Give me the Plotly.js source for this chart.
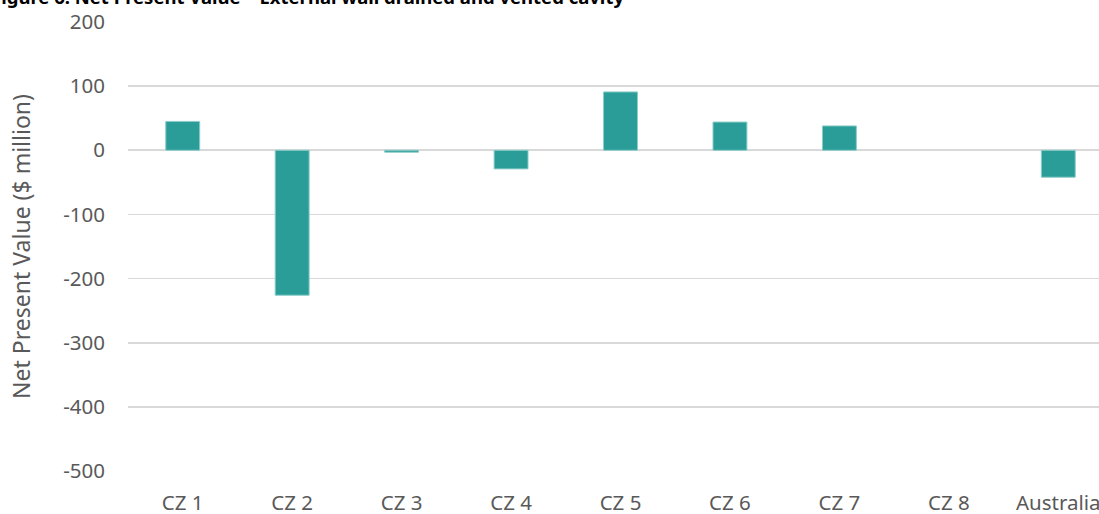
<!DOCTYPE html>
<html>
<head>
<meta charset="utf-8">
<script src="https://cdn.plot.ly/plotly-3.0.1.min.js"></script>
<style>
  html, body { margin: 0; padding: 0; overflow: hidden; background: #fff; }
  #chart { width: 1099px; height: 514px; }
</style>
</head>
<body>
<div id="chart"></div>
<script>
const categories = ["CZ 1", "CZ 2", "CZ 3", "CZ 4", "CZ 5", "CZ 6", "CZ 7", "CZ 8", "Australia"];
const npvValues = [45, -226, -3, -29, 91, 44, 38, 0, -42];
const yTickValues = [200, 100, 0, -100, -200, -300, -400, -500];
const titleText = "Figure 6: Net Present Value – External wall drained and vented cavity";
const yAxisTitle = "Net Present Value ($ million)";

const font = "Noto Sans, Open Sans, sans-serif";
const trace = {
  type: "bar",
  x: categories,
  y: npvValues,
  width: 0.31,
  marker: {
    color: "#2a9d98",
    line: { color: "#8ccdc9", width: npvValues.map(v => (v === 0 ? 0 : 1)) }
  },
  hoverinfo: "x+y"
};

const layout = {
  width: 1099,
  height: 514,
  margin: { l: 128, r: 0, t: 22, b: 43, pad: 0 },
  paper_bgcolor: "#ffffff",
  plot_bgcolor: "#ffffff",
  showlegend: false,
  font: { family: font, color: "#595959", size: 21 },
  xaxis: {
    type: "category",
    range: [-0.5, 8.372],
    showgrid: false,
    zeroline: false,
    showline: false,
    ticks: "",
    ticklabelstandoff: 17,
    tickfont: { family: font, size: 20.5, color: "#595959" }
  },
  yaxis: {
    range: [-500, 200],
    tickvals: yTickValues,
    ticktext: yTickValues.map(String),
    showgrid: true,
    gridcolor: "#d9d9d9",
    gridwidth: 1.6,
    zeroline: true,
    zerolinecolor: "#d9d9d9",
    zerolinewidth: 1.6,
    showline: false,
    ticks: "",
    ticklabelstandoff: 22,
    tickfont: { family: font, size: 20.5, color: "#595959" },
    title: { text: yAxisTitle, font: { family: font, size: 23, color: "#595959" }, standoff: 26 }
  },
  annotations: [{
    text: "<b>" + titleText + "</b>",
    xref: "paper", yref: "paper",
    x: -0.1435, y: 1.0245,
    xanchor: "left", yanchor: "bottom",
    showarrow: false,
    font: { family: font, size: 18.5, color: "#000000" }
  }]
};

Plotly.newPlot("chart", [trace], layout, { displayModeBar: false, staticPlot: true });
</script>
</body>
</html>
